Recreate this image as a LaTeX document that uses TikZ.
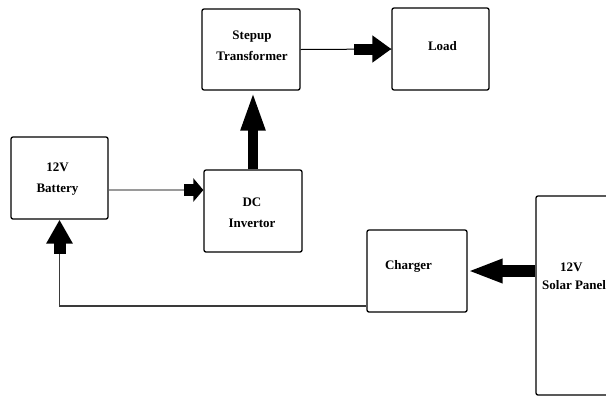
\documentclass[tikz,border=0pt]{standalone}
\usepackage{fontspec}
\setmainfont{Liberation Serif}
\usetikzlibrary{arrows.meta}
\definecolor{greyA}{HTML}{9A9A9A}
\definecolor{greyB}{HTML}{3A3A3A}
\begin{document}
\begin{tikzpicture}[x=1pt,y=-1pt,
  box/.style={draw,line width=1.3pt,rounded corners=2pt,inner sep=0pt,minimum width=97pt,minimum height=82pt},
  txt/.style={inner sep=0pt,align=center,font=\bfseries\fontsize{13}{21}\selectfont},
  thinline/.style={line width=1pt,black},
  greyline/.style={line width=2pt,greyA},
  darkline/.style={line width=1.6pt,greyB},
  fat/.style={line width=#1,black}]
\fill[white] (0,0) rectangle (606,397);
\path[use as bounding box] (0,0) rectangle (606,397);
\clip (0,0) rectangle (606,397);
% boxes
\node[box,minimum width=98pt,minimum height=81pt] (stepup) at (251,49.5) {};
\node[box] (load) at (440.5,49) {};
\node[box] (battery) at (59.5,178) {};
\node[box,minimum width=98pt] (dc) at (253,211) {};
\node[box,minimum width=100pt] (charger) at (417,271) {};
\node[box,minimum width=144pt,minimum height=199pt] (solar) at (608,295.5) {};
% texts
\node[txt] (stepuptext) at (252,45.5) {Stepup\\Transformer};
\node[txt] (loadtext) at (442.5,46) {Load};
\node[txt] (batterytext) at (57.5,179) {12V\\Battery};
\node[txt] (dctext) at (252,212.5) {DC\\Invertor};
\node[txt] (chargertext) at (408.5,266.5) {Charger};
\node[txt,anchor=west,align=left,font=\bfseries\fontsize{13}{18}\selectfont] (solartext) at (542,276.5) {\hspace*{18pt}12V\\Solar Panel};
% stepup -> load
\draw[thinline] (stepup.east) -- (load.west);
\draw[fat=11pt,-{Triangle[length=19pt,width=26pt]}] ([xshift=-37pt]load.west) -- (load.west);
% dc -> stepup
\draw[fat=10pt,-{Triangle[length=40pt,width=22pt]}] (dc.north) -- (dc.north |- stepup.south);
% battery -> dc
\coordinate (bd) at ([yshift=-12pt]battery.east -| dc.west);
\draw[greyline] ([yshift=-12pt]battery.east) -- (bd);
\draw[fat=12pt,-{Triangle[length=10pt,width=23pt]}] ([xshift=-19pt]bd) -- (bd);
% solar -> charger
\draw[fat=12pt,-{Triangle[length=35pt,width=22pt]}] (charger.east -| solar.west) -- (charger.east);
% charger -> battery
\coordinate (cb) at ([yshift=-35pt]charger.west);
\coordinate (ba) at ([yshift=-34pt]battery.south);
\draw[darkline] (cb) -| (ba);
\draw[fat=12pt,-{Triangle[length=24pt,width=25pt]}] (ba) -- (battery.south);
\end{tikzpicture}
\end{document}
